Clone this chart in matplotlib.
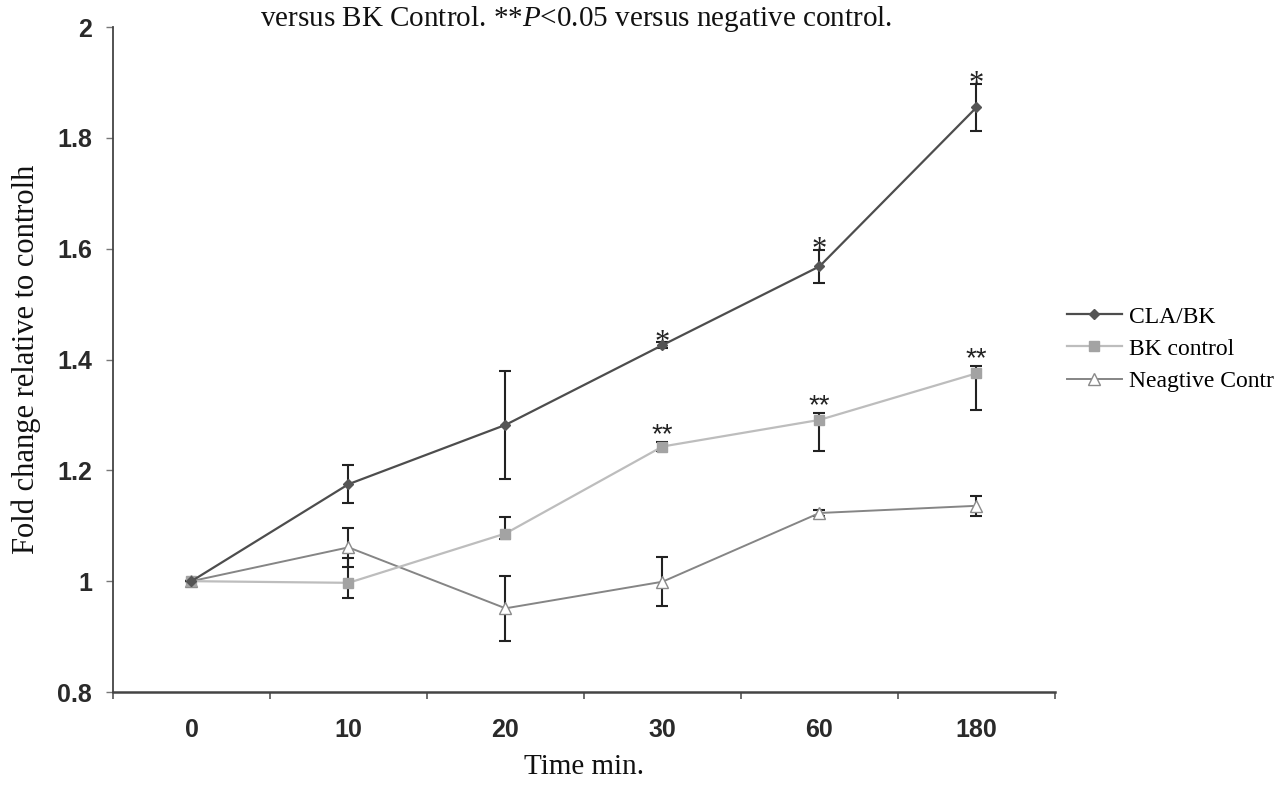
import matplotlib
matplotlib.use("Agg")
import matplotlib.pyplot as plt
import numpy as np

plt.rcParams["mathtext.fontset"] = "custom"
plt.rcParams["mathtext.it"] = "Liberation Serif:italic"
plt.rcParams["mathtext.rm"] = "Liberation Serif"

categories = ["0", "10", "20", "30", "60", "180"]

cla_bk = [1.0, 1.175, 1.282, 1.426, 1.568, 1.855]
cla_bk_err = [0.0, 0.034, 0.097, 0.005, 0.030, 0.042]

bk_control = [1.0, 0.997, 1.086, 1.243, 1.291, 1.375]
bk_err_low = [0.0, 0.028, 0.010, 0.008, 0.057, 0.066]
bk_err_high = [0.0, 0.044, 0.030, 0.008, 0.012, 0.013]

neg_control = [1.0, 1.061, 0.951, 0.999, 1.123, 1.136]
neg_err = [0.0, 0.035, 0.059, 0.044, 0.005, 0.018]

cla_sig = ["", "", "", "*", "*", "*"]
bk_sig = ["", "", "", "**", "**", "**"]

serif = ["Liberation Serif", "DejaVu Serif"]
sans = ["Liberation Sans", "DejaVu Sans"]

fig = plt.figure(figsize=(12.86, 7.92), dpi=100)
ax = fig.add_axes([113 / 1286, 1 - 692 / 792, (1055 - 113) / 1286, (692 - 27) / 792])

x = np.arange(len(categories))

c_cla = "#4d4d4d"
c_bk = "#bdbdbd"
c_neg = "#858585"

ax.errorbar(x, neg_control, yerr=neg_err, fmt="none", ecolor="#222222",
            elinewidth=1.5, capsize=4.5, capthick=1.5, zorder=2)
ax.errorbar(x, bk_control, yerr=[bk_err_low, bk_err_high], fmt="none", ecolor="#222222",
            elinewidth=1.5, capsize=4.5, capthick=1.5, zorder=2)
ax.errorbar(x, cla_bk, yerr=cla_bk_err, fmt="none", ecolor="#222222",
            elinewidth=1.5, capsize=4.5, capthick=1.5, zorder=2)

ax.plot(x, neg_control, color=c_neg, lw=1.4, marker="^", markersize=8,
        markerfacecolor="white", markeredgecolor="#8a8a8a", markeredgewidth=1.0,
        label="Neagtive Contr", zorder=3)
ax.plot(x, bk_control, color=c_bk, lw=1.6, marker="s", markersize=7,
        markerfacecolor="#a3a3a3", markeredgecolor="#a3a3a3",
        label="BK control", zorder=3)
ax.plot(x, cla_bk, color=c_cla, lw=1.6, marker="D", markersize=5,
        markerfacecolor="#555555", markeredgecolor="#555555",
        label="CLA/BK", zorder=4)

for xi, v, e, s in zip(x, cla_bk, cla_bk_err, cla_sig):
    if s:
        ax.annotate(s, (xi, v + e), xytext=(0, -6), textcoords="offset points",
                    ha="center", va="baseline", fontsize=22, family=serif, color="#222222")
for xi, v, e, s in zip(x, bk_control, bk_err_high, bk_sig):
    if s:
        ax.annotate(s, (xi, v + e), xytext=(0, 0), textcoords="offset points",
                    ha="center", va="baseline", fontsize=20, family=sans, color="#222222")

ax.set_xlim(-0.5, len(categories) - 0.5)
ax.set_ylim(0.8, 2.0)
ax.set_yticks(np.arange(0.8, 2.01, 0.2))
ax.set_yticklabels(["0.8", "1", "1.2", "1.4", "1.6", "1.8", "2"])
for lab in ax.get_yticklabels():
    lab.set_family(sans)
    lab.set_fontsize(18)
    lab.set_fontweight("bold")
    lab.set_color("#2a2a2a")

ax.set_xticks(x)
ax.set_xticklabels(categories)
for lab in ax.get_xticklabels():
    lab.set_family(sans)
    lab.set_fontsize(18)
    lab.set_fontweight("bold")
    lab.set_color("#2a2a2a")
ax.set_xticks(np.arange(-0.5, len(categories)), minor=True)
ax.tick_params(axis="x", which="major", length=0, pad=19)
ax.tick_params(axis="x", which="minor", length=5, width=1.2, direction="out", color="#555555")
ax.tick_params(axis="y", which="major", length=5, width=1.0, direction="out", color="#777777", pad=10)

for side in ["top", "right"]:
    ax.spines[side].set_visible(False)
ax.spines["left"].set_color("#444444")
ax.spines["left"].set_linewidth(1.3)
ax.spines["bottom"].set_color("#444444")
ax.spines["bottom"].set_linewidth(1.8)

ax.set_ylabel("Fold change relative to controlh", family=serif, fontsize=22, labelpad=12, color="#111111")
ax.set_xlabel("Time min.", family=serif, fontsize=21, labelpad=8, color="#111111")

handles, labels = ax.get_legend_handles_labels()
order = [2, 1, 0]
leg = fig.legend([handles[i] for i in order], [labels[i] for i in order],
                 loc="center left", bbox_to_anchor=(1046 / 1286, 1 - 349 / 792),
                 frameon=False, prop={"family": serif, "size": 17},
                 handlelength=2.3, labelspacing=0.45, handletextpad=0.3)

fig.text(576 / 1286, 1 - 26 / 792, "versus BK Control. **$\\it{P}$<0.05 versus negative control.",
         ha="center", va="baseline", family=serif, fontsize=21, color="#111111")

fig.savefig("out.png", dpi=100, facecolor="white")
